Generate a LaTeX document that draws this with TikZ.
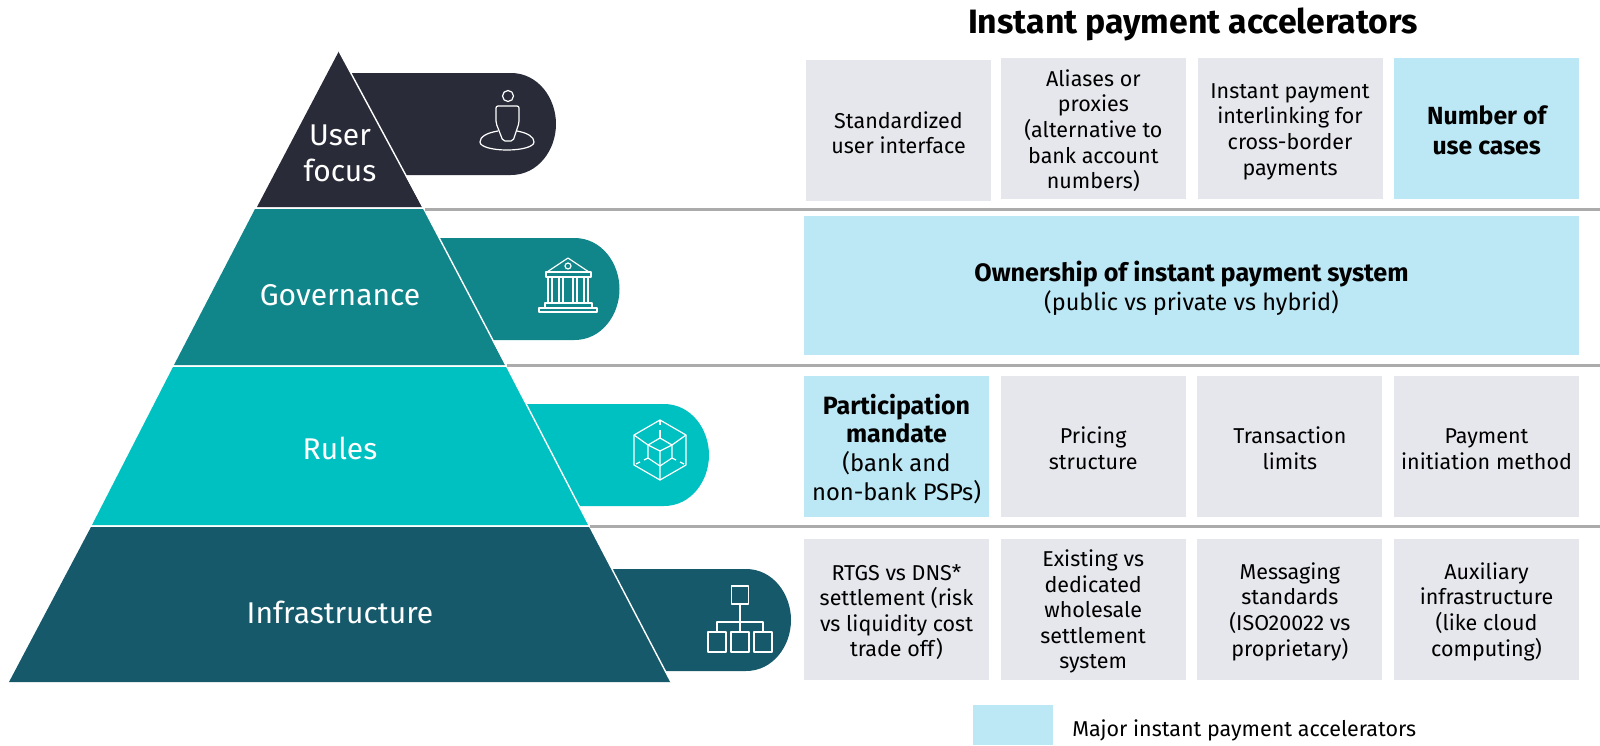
\documentclass[tikz,border=0pt]{standalone}
\usepackage{fontspec}
\setmainfont{Fira Sans}
\definecolor{darknavy}{HTML}{292B39}
\definecolor{govteal}{HTML}{10868A}
\definecolor{rulesteal}{HTML}{00C1C1}
\definecolor{infrateal}{HTML}{15596B}
\definecolor{cellgrey}{HTML}{E6E7EC}
\definecolor{cellblue}{HTML}{BCE7F4}
\definecolor{rulegrey}{HTML}{ABABAB}
\newcommand{\tabshape}[4]{% left x, top y, right x, colour
    \fill[#4] (#1,#2) -- (#3-45,#2) .. controls (#3-18,#2) and (#3,#2+25) .. (#3,#2+51)
    .. controls (#3,#2+77) and (#3-18,#2+102) .. (#3-45,#2+102) -- (#1,#2+102) -- cycle;
}
\newcommand{\cellgap}[1][-4.6pt]{\\[#1]} % empty first line, pushes the text down a little
\begin{document}
\begin{tikzpicture}[x = 1pt, y = -1pt,
                node distance = 196.67pt, % distance between columns
                semithick % line style
            ]

            \tikzstyle{cellbox}=[fill = cellgrey, minimum width = 185pt, minimum height = 141pt,
            inner sep = 2pt, align = center, font = \fontsize{21.5}{25.6}\selectfont, text = black]
            \tikzstyle{major}=[cellbox, fill = cellblue]
            \tikzstyle{level}=[text = white, align = center, font = \fontsize{30}{36}\selectfont]
            \tikzstyle{icon}=[draw = white, line width = 1.2pt, line join = round]
            \tikzstyle{divider}=[draw = rulegrey, line width = 3pt]

            \useasboundingbox (0,0) rectangle (1600,745);

            % tabs behind the pyramid
            \tabshape{345}{73}{556}{darknavy}
            \tabshape{430}{238}{619.5}{govteal}
            \tabshape{518}{404}{709}{rulesteal}
            \tabshape{600}{569}{791}{infrateal}

            % pyramid
            \fill[darknavy] (339,51) -- (422,207) -- (257,207) -- cycle;
            \fill[govteal] (255,209) -- (424,209) -- (505,365) -- (174,365) -- cycle;
            \fill[rulesteal] (173,367) -- (507,367) -- (589,525) -- (92,525) -- cycle;
            \fill[infrateal] (91,527) -- (590,527) -- (671,682) -- (9,682) -- cycle;
            \draw[white, line width = 1.4pt] (339,51) -- (424,209) (424,209) -- (507,367) (507,367) -- (590,527) (590,527) -- (671,682);

            \node (user) [level] at (340,153) {User\\focus};
            \node (gov) [level] at (340,295) {Governance};
            \node (rul) [level] at (340,448) {Rules};
            \node (inf) [level] at (340,612) {Infrastructure};

            % person
            \begin{scope}[shift = {(507,136)}, icon]
                \draw (1,-40) circle (5.5);
                \draw[rounded corners = 2pt] (-11,-30) -- (12,-30) -- (12,-13) -- (6,5) -- (-4,5) -- (-11,-13) -- cycle;
                \draw (10,-5) .. controls (21,-3) and (27,1) .. (27,6) .. controls (27,11) and (14,14) .. (0,14)
                    .. controls (-14,14) and (-27,11) .. (-27,6) .. controls (-27,1) and (-21,-3) .. (-9,-5);
            \end{scope}

            % bank
            \begin{scope}[shift = {(568,285)}, icon]
                \draw (-21,-13) -- (0,-27) -- (21,-13);
                \draw (0,-19) circle (3);
                \draw (-22,-13) rectangle (23,-8);
                \foreach \xa in {-20,-16,-9,-5,5,9,16,20} { \draw (\xa,-8) -- (\xa,18); }
                \draw (-23,18) rectangle (24,23);
                \draw (-29,23) -- (-29,27) -- (29,27) -- (29,23) -- cycle;
            \end{scope}

            % hexagon
            \begin{scope}[shift = {(660,450)}, icon]
                \draw (0,-30) -- (26,-15) -- (26,15) -- (0,30) -- (-26,15) -- (-26,-15) -- cycle;
                \draw (0,-12) -- (12,-5) -- (12,8) -- (0,16) -- (-12,8) -- (-12,-5) -- cycle;
                \draw (-12,-5) -- (0,1) -- (12,-5) (0,1) -- (0,30);
                \draw (-26,-15) -- (-12,-5) (26,-15) -- (12,-5);
                \draw (0,-30) -- (0,-25) (0,-20) -- (0,-12);
                \draw (-12,8) -- (-16,10) (-20,12) -- (-24,14) (12,8) -- (16,10) (20,12) -- (24,14);
            \end{scope}

            % org chart
            \begin{scope}[shift = {(740,620)}, icon]
                \draw (-8.5,-34) rectangle (8.5,-16);
                \draw (0,-16) -- (0,12) (-23,12) -- (-23,2) -- (23,2) -- (23,12);
                \foreach \xa in {-23,0,23} { \draw (\xa-9,12) rectangle (\xa+9,32); }
            \end{scope}

            % heading and cells
            \node (head) [font = \fontsize{33.8}{40}\selectfont\bfseries] at (1193,24) {Instant payment accelerators};

            \node (a1) [cellbox] at (898.5,130.5) {\cellgap Standardized\\user interface};
            \node (a2) [cellbox, right of=a1, xshift = -1.8pt, yshift = 2pt] {\cellgap Aliases or\\proxies\\(alternative to\\bank account\\numbers)};
            \node (a3) [cellbox, right of=a2] {\cellgap Instant payment\\interlinking for\\cross-border\\payments};
            \node (a4) [major, right of=a3, font = \fontsize{24.8}{30}\selectfont\bfseries] {\cellgap[-7pt]Number of\\use cases};

            \node (own) [major, minimum width = 775pt, minimum height = 139.5pt, font = \fontsize{23.5}{29}\selectfont] at (1191.5,285.5)
                {\cellgap[-2.3pt]\fontsize{25.2}{29}\selectfont\textbf{Ownership of instant payment system}\\\fontsize{23.5}{29}\selectfont(public vs private vs hybrid)};

            \node (c1) [major, font = \fontsize{23.8}{28.7}\selectfont] at (896.5,446.3) {\cellgap[-3.2pt]\textbf{\fontsize{25}{28.7}\selectfont Participation}\\\textbf{\fontsize{25}{28.7}\selectfont mandate}\\(bank and\\non-bank PSPs)};
            \node (c2) [cellbox, right of=c1] {\cellgap Pricing\\structure};
            \node (c3) [cellbox, right of=c2] {\cellgap Transaction\\limits};
            \node (c4) [cellbox, right of=c3] {\cellgap Payment\\initiation method};

            \node (d1) [cellbox] at (896.5,609.5) {\cellgap RTGS vs DNS*\\settlement (risk\\vs liquidity cost\\trade off)};
            \node (d2) [cellbox, right of=d1] {\cellgap Existing vs\\dedicated\\wholesale\\settlement\\system};
            \node (d3) [cellbox, right of=d2] {\cellgap Messaging\\standards\\(ISO20022 vs\\proprietary)};
            \node (d4) [cellbox, right of=d3] {\cellgap Auxiliary\\infrastructure\\(like cloud\\computing)};

            \node (key) [fill = cellblue, minimum width = 80pt, minimum height = 40pt, inner sep = 0pt] at (1013,725) {};
            \node (keylabel) [anchor = west, inner sep = 0pt, font = \fontsize{21.5}{26}\selectfont] at (1072,730) {Major instant payment accelerators};

            % rules to the right edge
            \coordinate (r1) at (1600,209); \coordinate (r2) at (1600,365); \coordinate (r3) at (1600,526);
            \coordinate (l1) at (425,209); \coordinate (l2) at (507,365); \coordinate (l3) at (590,526);
            \path[divider] (l1) edge (r1); \path[divider] (l2) edge (r2); \path[divider] (l3) edge (r3);
        \end{tikzpicture}
\end{document}
